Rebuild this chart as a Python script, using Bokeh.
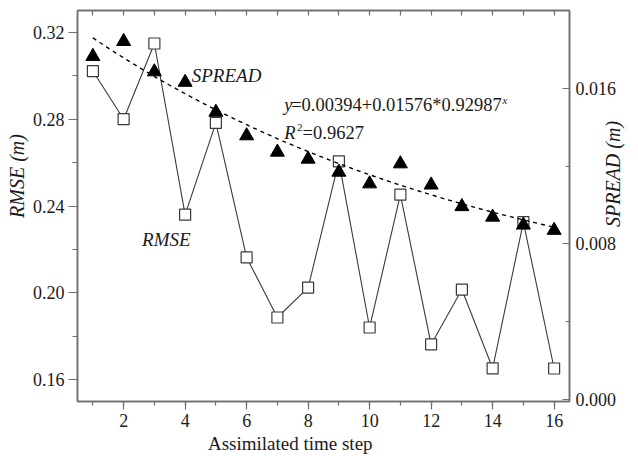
import math
import numpy as np
from bokeh.plotting import figure
from bokeh.models import (Range1d, LinearAxis, SingleIntervalTicker, FixedTicker,
                          NumeralTickFormatter, Label)
from bokeh.embed import file_html
from bokeh.resources import INLINE

# ---- data ----
steps = [1, 2, 3, 4, 5, 6, 7, 8, 9, 10, 11, 12, 13, 14, 15, 16]
rmse = [0.3022, 0.2800, 0.3149, 0.2360, 0.2783, 0.2163, 0.1886, 0.2024,
        0.2606, 0.1840, 0.2452, 0.1762, 0.2015, 0.1652, 0.2326, 0.1651]
spread = [0.01764, 0.01841, 0.01685, 0.01631, 0.01477, 0.01356, 0.01272, 0.01236,
          0.01169, 0.01109, 0.01212, 0.01103, 0.00992, 0.00938, 0.00897, 0.00870]
# fitted curve stated on the chart: y = a + b * c^x
fit_a, fit_b, fit_c = 0.00394, 0.01576, 0.92987
fit_r2 = 0.9627

FONT = "Liberation Serif"
AXIS_COL = "#6e6e6e"
TXT = "#1a1a1a"
NB = "\u00a0"

p = figure(width=638, height=456, output_backend="svg", toolbar_location=None,
           x_range=Range1d(0.5, 16.5), y_range=Range1d(0.14989, 0.33011),
           min_border_left=77, min_border_right=66, min_border_top=10,
           min_border_bottom=54)
p.extra_y_ranges = {"spread": Range1d(-0.0001, 0.0200)}
p.xgrid.visible = False
p.ygrid.visible = False
p.outline_line_color = AXIS_COL
p.outline_line_width = 1.5
p.background_fill_color = "white"
p.border_fill_color = "white"


def style_axis(ax):
    ax.axis_line_color = AXIS_COL
    ax.axis_line_width = 1.5
    ax.major_tick_line_color = AXIS_COL
    ax.minor_tick_line_color = AXIS_COL
    ax.major_tick_line_width = 1.2
    ax.minor_tick_line_width = 1.2
    ax.major_label_text_font = FONT
    ax.major_label_text_font_size = "18px"
    ax.major_label_text_color = TXT
    ax.axis_label_text_font = FONT
    ax.axis_label_text_color = TXT
    ax.axis_label_text_font_style = "normal"


# bottom axis
xa = p.xaxis[0]
xa.ticker = SingleIntervalTicker(interval=2, num_minor_ticks=2)
style_axis(xa)
xa.major_tick_out = 8
xa.major_tick_in = 0
xa.minor_tick_out = 4
xa.minor_tick_in = 0
xa.major_label_standoff = 4
xa.axis_label = "Assimilated time step" + NB * 14
xa.axis_label_text_font_size = "19px"
xa.axis_label_standoff = 3

# left axis
ya = p.yaxis[0]
ya.ticker = SingleIntervalTicker(interval=0.04, num_minor_ticks=2)
ya.formatter = NumeralTickFormatter(format="0.00")
style_axis(ya)
ya.major_tick_out = 9
ya.major_tick_in = 0
ya.minor_tick_out = 5
ya.minor_tick_in = 0
ya.major_label_standoff = 4
ya.axis_label = NB * 12 + "RMSE (m)"
ya.axis_label_text_font_size = "20px"
ya.axis_label_text_font_style = "italic"
ya.axis_label_standoff = 2

# right axis (SPREAD)
ra = LinearAxis(y_range_name="spread",
                ticker=SingleIntervalTicker(interval=0.008, num_minor_ticks=2),
                formatter=NumeralTickFormatter(format="0.000"))
style_axis(ra)
ra.major_tick_in = 7
ra.major_tick_out = 0
ra.minor_tick_in = 4
ra.minor_tick_out = 0
ra.major_label_standoff = 6
p.add_layout(ra, "right")

# right-axis title, drawn as a rotated single label of an outer axis
# (the rotated label starts at its tick and runs upward)
spread_title_pos = 0.00887
rt = LinearAxis(y_range_name="spread",
                ticker=FixedTicker(ticks=[spread_title_pos], minor_ticks=[]),
                major_label_overrides={spread_title_pos: "SPREAD (m)"},
                major_label_orientation=math.pi / 2)
rt.axis_line_color = None
rt.major_tick_line_color = None
rt.minor_tick_line_color = None
rt.major_tick_in = 0
rt.major_tick_out = 0
rt.minor_tick_in = 0
rt.minor_tick_out = 0
rt.major_label_standoff = -6
rt.major_label_text_font = FONT
rt.major_label_text_font_size = "20px"
rt.major_label_text_font_style = "italic"
rt.major_label_text_color = TXT
p.add_layout(rt, "right")

# top axis (ticks only)
ta = LinearAxis(ticker=SingleIntervalTicker(interval=1, num_minor_ticks=0))
style_axis(ta)
ta.major_tick_in = 5
ta.major_tick_out = 0
ta.minor_tick_in = 0
ta.minor_tick_out = 0
ta.major_label_overrides = {i: "" for i in steps}
ta.major_label_text_font_size = "1px"
ta.major_label_standoff = 0
p.add_layout(ta, "above")

# RMSE line and squares
p.line(steps, rmse, line_color="#3a3a3a", line_width=1.1)
p.scatter(steps, rmse, marker="square", size=11, fill_color="white",
          line_color="#3a3a3a", line_width=1.2)

# fitted curve (right axis)
fx = np.linspace(steps[0], steps[-1], 200)
fy = fit_a + fit_b * fit_c ** fx
p.line(fx, fy, y_range_name="spread", line_color="black", line_width=1.4,
       line_dash="4 4")

# SPREAD triangles
p.scatter(steps, spread, y_range_name="spread", marker="triangle", size=14,
          fill_color="black", line_color="black")


def lab(x, y, text, size="19px", style="normal", align="left"):
    p.add_layout(Label(x=x, y=y, text=text, text_font=FONT,
                       text_font_size=size, text_font_style=style,
                       text_color=TXT, text_align=align,
                       text_baseline="alphabetic"))


# series labels
lab(4.216, 0.30023, "SPREAD", style="italic")
lab(2.600, 0.22437, "RMSE", style="italic")

# equation
lab(7.222, 0.2864, "y", size="18.5px", style="italic")
lab(7.448, 0.2864, "=0.00394+0.01576*0.92987", size="18.5px")
lab(14.32, 0.28874, "x", size="11px", style="italic")
lab(7.222, 0.27356, "R", size="18.5px", style="italic")
lab(7.642, 0.27632, "2", size="11px")
lab(7.82, 0.27356, "=" + str(fit_r2), size="18.5px")

open("out.html", "w").write(file_html(p, INLINE))
